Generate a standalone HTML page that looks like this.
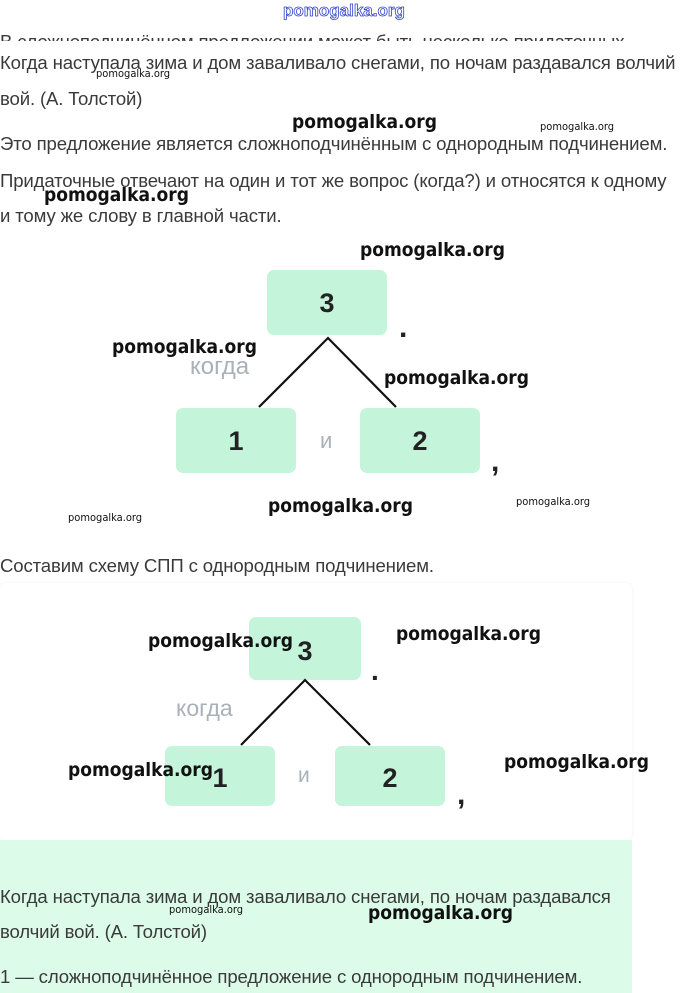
<!DOCTYPE html>
<html><head><meta charset="utf-8"><style>
body{margin:0;width:680px;height:993px;background:#fff;position:relative;overflow:hidden;font-family:"Liberation Sans","DejaVu Sans",sans-serif;color:#333}
.a{position:absolute;white-space:nowrap}
.t{font-size:18.6px;color:#3a3a3a;letter-spacing:-0.15px}
.w{font-weight:bold;color:#111;font-family:"DejaVu Sans Condensed","Liberation Sans",sans-serif}
.wl{font-size:19px}.ws{font-size:11px;font-weight:normal}
.box{position:absolute;background:#c4f4da;border-radius:7px}
.n{position:absolute;font-size:27px;font-weight:bold;color:#222;text-align:center}
</style></head><body>
<div class="a" style="left:283px;top:1px;font-size:17px;color:#fff;-webkit-text-stroke:0.8px #3344cc;font-weight:bold">pomogalka.org</div>
<div class="a t" style="left:0;top:31px;height:10px;overflow:hidden">В сложноподчинённом предложении может быть несколько придаточных</div>
<div class="a t" style="left:0;top:52px">Когда наступала зима и дом заваливало снегами, по ночам раздавался волчий</div>
<div class="a t" style="left:0;top:88px">вой. (А. Толстой)</div>
<div class="a t" style="left:0;top:133px">Это предложение является сложноподчинённым с однородным подчинением.</div>
<div class="a t" style="left:0;top:170px">Придаточные отвечают на один и тот же вопрос (когда?) и относятся к одному</div>
<div class="a t" style="left:0;top:205px">и тому же слову в главной части.</div>
<div class="a w ws" style="left:96px;top:67px">pomogalka.org</div>
<div class="a w wl" style="left:292px;top:111px">pomogalka.org</div>
<div class="a w ws" style="left:540px;top:120px">pomogalka.org</div>
<div class="a w wl" style="left:44px;top:184px">pomogalka.org</div>

<div class="box" style="left:267px;top:270px;width:120px;height:65px"></div>
<div class="box" style="left:176px;top:408px;width:120px;height:65px"></div>
<div class="box" style="left:360px;top:408px;width:120px;height:65px"></div>
<svg class="a" style="left:0;top:0" width="680" height="993"><path d="M259 407L328 338L396 407" fill="none" stroke="#111" stroke-width="2.2"/></svg>
<div class="n" style="left:267px;top:288px;width:120px">3</div>
<div class="n" style="left:176px;top:426px;width:120px">1</div>
<div class="n" style="left:360px;top:426px;width:120px">2</div>
<div class="a" style="left:190px;top:353px;font-size:24px;color:#a9b1b8">когда</div>
<div class="a" style="left:320px;top:428px;font-size:22px;color:#a9b1b8">и</div>
<div class="a" style="left:399px;top:311px;font-size:30px;font-weight:bold;color:#222">.</div>
<div class="a" style="left:491px;top:445px;font-size:30px;font-weight:bold;color:#222">,</div>
<div class="a w wl" style="left:360px;top:239px">pomogalka.org</div>
<div class="a w wl" style="left:112px;top:336px">pomogalka.org</div>
<div class="a w wl" style="left:384px;top:367px">pomogalka.org</div>
<div class="a w wl" style="left:268px;top:495px">pomogalka.org</div>
<div class="a w ws" style="left:516px;top:495px">pomogalka.org</div>
<div class="a w ws" style="left:68px;top:511px">pomogalka.org</div>

<div class="a t" style="left:0;top:555px">Составим схему СПП с однородным подчинением.</div>
<div class="a" style="left:0;top:583px;width:632px;height:257px;background:#fff;border-radius:6px;box-shadow:0 0 3px rgba(0,0,0,0.06)"></div>
<div class="a" style="left:0;top:840px;width:632px;height:153px;background:#dcfce9"></div>
<div class="box" style="left:249px;top:617px;width:112px;height:63px"></div>
<div class="box" style="left:165px;top:746px;width:110px;height:60px"></div>
<div class="box" style="left:335px;top:746px;width:110px;height:60px"></div>
<svg class="a" style="left:0;top:0" width="680" height="993"><path d="M241 745L305 680L370 745" fill="none" stroke="#111" stroke-width="2.2"/></svg>
<div class="n" style="left:249px;top:636px;width:112px">3</div>
<div class="n" style="left:165px;top:763px;width:110px">1</div>
<div class="n" style="left:335px;top:763px;width:110px">2</div>
<div class="a" style="left:176px;top:695px;font-size:23px;color:#a9b1b8">когда</div>
<div class="a" style="left:298px;top:764px;font-size:21px;color:#a9b1b8">и</div>
<div class="a" style="left:371px;top:655px;font-size:28px;font-weight:bold;color:#222">.</div>
<div class="a" style="left:457px;top:778px;font-size:30px;font-weight:bold;color:#222">,</div>
<div class="a w wl" style="left:148px;top:630px">pomogalka.org</div>
<div class="a w wl" style="left:396px;top:623px">pomogalka.org</div>
<div class="a w wl" style="left:68px;top:759px">pomogalka.org</div>
<div class="a w wl" style="left:504px;top:751px">pomogalka.org</div>

<div class="a t" style="left:0;top:886px">Когда наступала зима и дом заваливало снегами, по ночам раздавался</div>
<div class="a t" style="left:0;top:921px">волчий вой. (А. Толстой)</div>
<div class="a t" style="left:0;top:966px">1 — сложноподчинённое предложение с однородным подчинением.</div>
<div class="a w ws" style="left:169px;top:903px">pomogalka.org</div>
<div class="a w wl" style="left:368px;top:902px">pomogalka.org</div>
</body></html>
